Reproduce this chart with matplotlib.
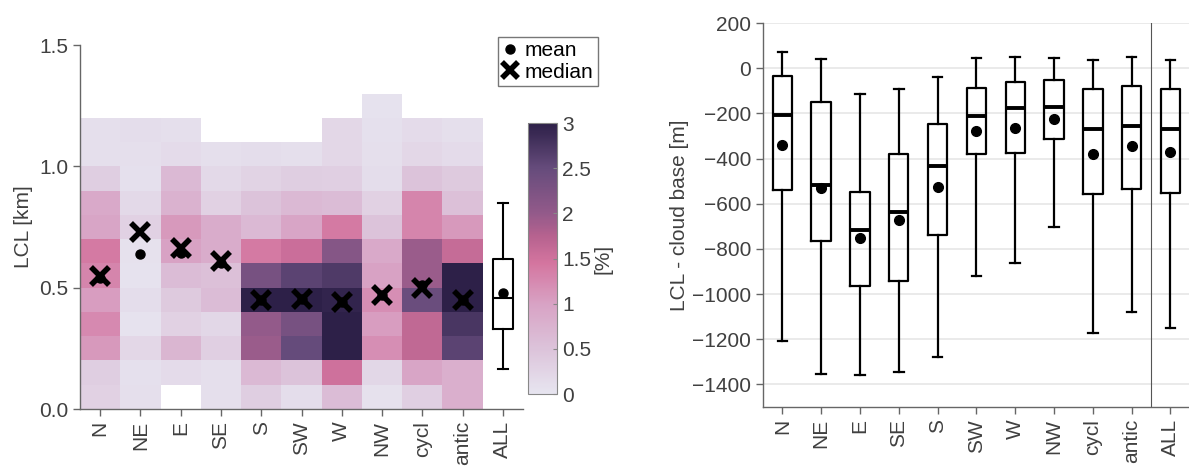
import numpy as np
import matplotlib
matplotlib.use("Agg")
import matplotlib.pyplot as plt
from matplotlib.colors import LinearSegmentedColormap
from matplotlib.lines import Line2D

plt.rcParams['font.family'] = ['Liberation Sans', 'DejaVu Sans']
plt.rcParams['font.size'] = 15

categories = ['N', 'NE', 'E', 'SE', 'S', 'SW', 'W', 'NW', 'cycl', 'antic']
all_label = 'ALL'

# frequency [%] of LCL in 0.1 km bins, listed from the lowest bin upwards
freq = {
    'N':     [0.3, 0.35, 1.1, 1.25, 1.05, 1.3, 1.4, 0.95, 0.9, 0.35, 0.1, 0.1],
    'NE':    [0.1, 0.08, 0.2, 0.05, 0.12, 0.05, 0.07, 0.3, 0.18, 0.08, 0.1, 0.12],
    'E':     [np.nan, 0.15, 0.7, 0.3, 0.4, 0.6, 1.0, 1.1, 0.75, 0.65, 0.15, 0.1],
    'SE':    [0.1, 0.1, 0.32, 0.22, 0.6, 0.55, 0.85, 0.85, 0.3, 0.18, 0.1],
    'S':     [0.35, 0.65, 1.95, 2.0, 3.0, 2.3, 1.4, 0.65, 0.5, 0.28, 0.12],
    'SW':    [0.12, 0.5, 2.5, 2.3, 3.0, 2.6, 1.55, 0.95, 0.65, 0.35, 0.1],
    'W':     [0.6, 1.5, 3.0, 3.0, 2.95, 2.7, 2.15, 1.4, 0.6, 0.32, 0.2, 0.2],
    'NW':    [0.07, 0.22, 1.2, 1.05, 1.2, 1.0, 0.9, 0.5, 0.3, 0.12, 0.1, 0.08, 0.05],
    'cycl':  [0.33, 0.95, 1.65, 1.65, 2.45, 1.95, 1.95, 1.3, 1.3, 0.5, 0.2, 0.15],
    'antic': [0.8, 0.8, 2.6, 2.75, 3.0, 3.0, 1.6, 1.1, 0.55, 0.4, 0.15, 0.1],
}
bin_width = 0.1

lcl_median = [0.55, 0.73, 0.665, 0.61, 0.45, 0.455, 0.44, 0.47, 0.50, 0.45]
lcl_mean = [0.54, 0.64, 0.645, 0.60, 0.45, 0.455, 0.44, 0.47, 0.51, 0.45]

# LCL distribution of all days [km]
all_whislo, all_q1, all_med, all_q3, all_whishi = 0.165, 0.33, 0.457, 0.617, 0.85
all_mean = 0.48

# LCL minus cloud base [m]
diff_whishi = [71, 42, -116, -94, -41, 46, 51, 46, 37, 51, 37]
diff_q3 = [-35, -149, -549, -378, -248, -88, -59, -54, -93, -81, -93]
diff_med = [-208, -518, -716, -638, -431, -212, -177, -171, -270, -255, -267]
diff_mean = [-339, -530, -751, -672, -528, -280, -265, -224, -379, -345, -370]
diff_q1 = [-540, -763, -964, -944, -740, -382, -376, -314, -558, -533, -552]
diff_whislo = [-1206, -1354, -1359, -1344, -1277, -918, -861, -703, -1174, -1079, -1150]

cmap = LinearSegmentedColormap.from_list('lcl', [
    (0.0, '#e7e5f0'), (0.5 / 3, '#dcc3da'), (1.0 / 3, '#d8a2c4'),
    (1.45 / 3, '#d4759f'), (1.75 / 3, '#b6628f'), (2.0 / 3, '#935a8a'),
    (2.5 / 3, '#664c7c'), (1.0, '#2d2048')])

text_col = '#404040'
spine_col = '#666666'

fig = plt.figure(figsize=(11.89, 4.66), dpi=100)
ax1 = fig.add_axes([0.0673, 0.1223, 0.3726, 0.781])
cax = fig.add_axes([0.4441, 0.1545, 0.0244, 0.5815])
ax2 = fig.add_axes([0.6417, 0.1266, 0.359, 0.824])

# ---- left: LCL frequency per weather type ----
nrows = max(len(v) for v in freq.values())
grid = np.full((nrows, len(categories)), np.nan)
for j, c in enumerate(categories):
    grid[:len(freq[c]), j] = freq[c]
xedges = np.arange(len(categories) + 1) - 0.5
yedges = np.arange(nrows + 1) * bin_width
mesh = ax1.pcolormesh(xedges, yedges, np.ma.masked_invalid(grid), cmap=cmap,
                      vmin=0, vmax=3, shading='flat', antialiased=True)

xpos = np.arange(len(categories))
ax1.plot(xpos, lcl_mean, 'o', color='black', ms=6.5, zorder=3)
ax1.plot(xpos, lcl_median, 'x', color='black', ms=13, mew=4, zorder=4)

all_stats = [dict(med=all_med, q1=all_q1, q3=all_q3, whislo=all_whislo,
                  whishi=all_whishi, mean=all_mean, fliers=[])]
ax1.bxp(all_stats, positions=[len(categories)], widths=0.5, showmeans=True,
        showfliers=False, manage_ticks=False,
        boxprops=dict(color='black', lw=1.5),
        whiskerprops=dict(color='black', lw=1.5),
        capprops=dict(color='black', lw=1.5),
        medianprops=dict(color='black', lw=1.5),
        meanprops=dict(marker='o', markerfacecolor='black',
                       markeredgecolor='black', markersize=6.5))

ax1.set_xlim(-0.5, len(categories) + 0.5)
ax1.set_ylim(0, 1.5)
ax1.set_xticks(list(xpos) + [len(categories)])
ax1.set_xticklabels(categories + [all_label], rotation=90)
ax1.set_yticks([0, 0.5, 1.0, 1.5])
ax1.set_yticklabels(['0.0', '0.5', '1.0', '1.5'])
ax1.set_ylabel('LCL [km]', color=text_col)

cb = fig.colorbar(mesh, cax=cax, ticks=[0, 0.5, 1, 1.5, 2, 2.5, 3])
cb.ax.set_yticklabels(['0', '0.5', '1', '1.5', '2', '2.5', '3'])
cb.outline.set_edgecolor('#888888')
cb.outline.set_linewidth(0.8)
cb.ax.tick_params(length=3, width=0.8, color='#888888', direction='in',
                  labelcolor=text_col)
cb.set_label('[%]', color=text_col, labelpad=2)

handles = [Line2D([], [], marker='o', ls='', color='black', ms=6.5),
           Line2D([], [], marker='x', ls='', color='black', ms=12, mew=4)]
fig.legend(handles, ['mean', 'median'], loc='upper left',
           bbox_to_anchor=(0.4188, 0.92), frameon=True, fancybox=False,
           edgecolor='#555555', handlelength=0.8, handletextpad=0.3,
           borderpad=0.2, labelspacing=0.1, borderaxespad=0, fontsize=15)

# ---- right: LCL minus cloud base ----
labels2 = categories + [all_label]
stats2 = []
for i, lab in enumerate(labels2):
    stats2.append(dict(label=lab, med=diff_med[i], q1=diff_q1[i],
                       q3=diff_q3[i], whislo=diff_whislo[i],
                       whishi=diff_whishi[i], mean=diff_mean[i], fliers=[]))
ax2.yaxis.grid(True, color='#e6e6e6', lw=1.2)
ax2.set_axisbelow(True)
ax2.bxp(stats2, positions=np.arange(len(labels2)), widths=0.5,
        showmeans=True, showfliers=False,
        boxprops=dict(color='black', lw=1.6),
        whiskerprops=dict(color='black', lw=1.6),
        capprops=dict(color='black', lw=1.6),
        medianprops=dict(color='black', lw=2.8),
        meanprops=dict(marker='o', markerfacecolor='black',
                       markeredgecolor='black', markersize=7))
ax2.axvline(len(categories) - 0.5, color='#555555', lw=0.8)
ax2.set_xlim(-0.5, len(labels2) - 0.5)
ax2.set_ylim(-1500, 200)
ax2.set_yticks(np.arange(-1400, 201, 200))
ax2.set_xticks(np.arange(len(labels2)))
ax2.set_xticklabels(labels2, rotation=90)
ax2.set_ylabel('LCL - cloud base [m]', color=text_col, labelpad=2)

for ax in (ax1, ax2):
    for side in ('top', 'right'):
        ax.spines[side].set_visible(False)
    for side in ('left', 'bottom'):
        ax.spines[side].set_color(spine_col)
        ax.spines[side].set_linewidth(1.0)
    ax.tick_params(direction='out', length=5, width=1.0, color=spine_col,
                   labelcolor=text_col)

fig.savefig('out.png', dpi=100)
